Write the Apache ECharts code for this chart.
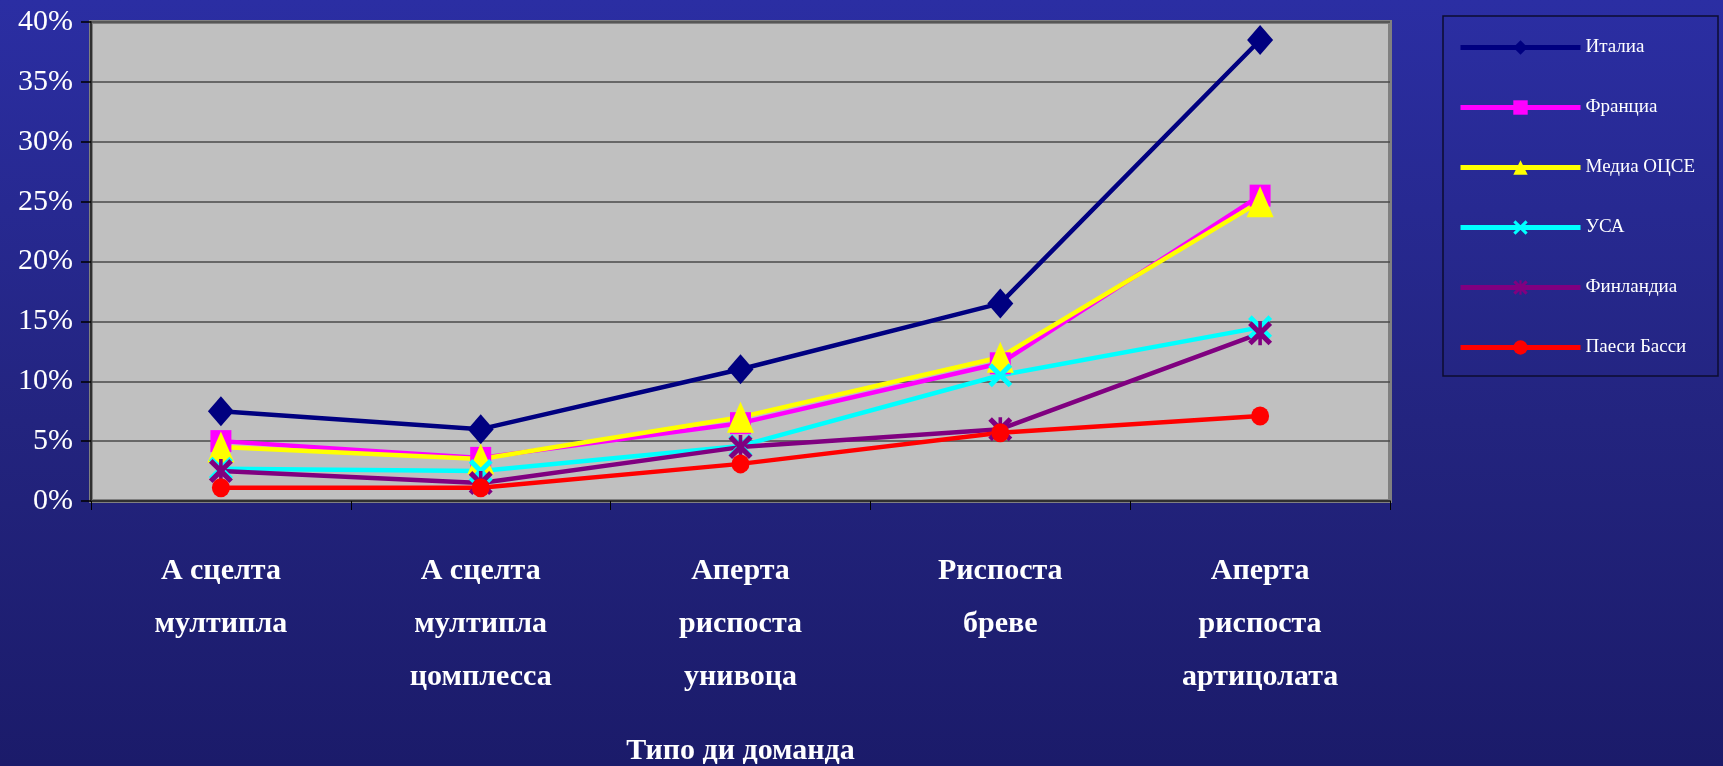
<!DOCTYPE html>
<html>
<head>
<meta charset="utf-8">
<title>Типо ди доманда</title>
<script src="https://cdn.jsdelivr.net/npm/echarts@6/dist/echarts.min.js"></script>
<style>
  html, body { margin: 0; padding: 0; }
  body {
    width: 1723px; height: 766px; overflow: hidden;
    background: linear-gradient(180deg, #2b2ea3 0%, #23247f 55%, #1b1b6a 100%);
  }
  #chart { width: 1723px; height: 766px; }
</style>
</head>
<body>
<div id="chart"></div>
<script>
// Question types along the x axis
const categories = [
  'А сцелта\nмултипла',
  'А сцелта\nмултипла\nцомплесса',
  'Аперта\nриспоста\nунивоца',
  'Риспоста\nбреве',
  'Аперта\nриспоста\nартицолата'
];

// Share of questions per type (percent)
const italia      = [7.5, 6.0, 11.0, 16.5, 38.5];
const francia     = [5.0, 3.6, 6.5, 11.5, 25.5];
const mediaOcse   = [4.5, 3.5, 7.0, 12.0, 25.0];
const usa         = [2.7, 2.5, 4.6, 10.5, 14.5];
const finlandia   = [2.5, 1.5, 4.5, 6.0, 14.0];
const paesiBassi  = [1.1, 1.1, 3.1, 5.7, 7.1];

const seriesNames = ['Италиа', 'Франциа', 'Медиа ОЦСЕ', 'УСА', 'Финландиа', 'Паеси Басси'];
const yTicks = { min: 0, max: 40, interval: 5 };

// Marker shapes
const X_PATH = 'path://M0,3 L3,0 L10,7 L17,0 L20,3 L13,10 L20,17 L17,20 L10,13 L3,20 L0,17 L7,10 Z';
const STAR_PATH = 'path://M0,3 L3,0 L8.5,5.5 L8.5,0 L11.5,0 L11.5,5.5 L17,0 L20,3 L13,10 L20,17 L17,20 L11.5,14.5 L11.5,20 L8.5,20 L8.5,14.5 L3,20 L0,17 L7,10 Z';

const SERIF = '"Liberation Serif", "Times New Roman", serif';

function lineSeries(name, data, color, symbol, size) {
  return {
    name: name,
    type: 'line',
    data: data,
    symbol: symbol,
    symbolSize: size,
    showAllSymbol: true,
    lineStyle: { color: color, width: 4.5 },
    itemStyle: { color: color },
    emphasis: { disabled: true },
    animation: false
  };
}

const chart = echarts.init(document.getElementById('chart'), null, { renderer: 'canvas' });

chart.setOption({
  backgroundColor: 'transparent',
  animation: false,
  grid: {
    left: 91, right: 333, top: 22, bottom: 265,
    containLabel: false,
    outerBoundsMode: 'none',
    show: true,
    backgroundColor: '#c0c0c0',
    borderColor: '#808080',
    borderWidth: 4
  },
  graphic: [{
    type: 'rect',
    shape: { x: 1443, y: 16, width: 275, height: 360 },
    style: { fill: 'none', stroke: '#0c0c30', lineWidth: 1.5 },
    z: 1
  }],
  legend: {
    orient: 'vertical',
    left: 1458,
    top: 38,
    padding: 0,
    itemWidth: 120,
    itemHeight: 18,
    itemGap: 41,
    data: seriesNames,
    lineStyle: { width: 5 },
    textStyle: { color: '#ffffff', fontFamily: SERIF, fontSize: 19, lineHeight: 18 },
    selectedMode: false
  },
  xAxis: {
    type: 'category',
    data: categories,
    boundaryGap: true,
    axisLine: { show: true, lineStyle: { color: '#303030', width: 2 } },
    axisTick: { show: true, length: 9, lineStyle: { color: '#000000', width: 1 } },
    axisLabel: {
      color: '#ffffff',
      fontFamily: SERIF,
      fontWeight: 'bold',
      fontSize: 30,
      lineHeight: 53,
      margin: 44,
      interval: 0
    },
    name: 'Типо ди доманда',
    nameLocation: 'middle',
    nameGap: 235,
    nameTextStyle: {
      color: '#ffffff',
      fontFamily: SERIF,
      fontWeight: 'bold',
      fontSize: 30
    }
  },
  yAxis: {
    type: 'value',
    min: yTicks.min,
    max: yTicks.max,
    interval: yTicks.interval,
    axisLine: { show: true, lineStyle: { color: '#303030', width: 2 } },
    axisTick: { show: true, length: 10, lineStyle: { color: '#000000', width: 1.5 } },
    axisLabel: {
      color: '#ffffff',
      fontFamily: SERIF,
      fontSize: 30,
      margin: 18,
      formatter: '{value}%'
    },
    splitLine: { show: true, lineStyle: { color: '#4a4a4a', width: 1.5 } }
  },
  series: [
    lineSeries(seriesNames[0], italia, '#000080', 'diamond', [26, 30]),
    lineSeries(seriesNames[1], francia, '#ff00ff', 'rect', [21, 22]),
    lineSeries(seriesNames[2], mediaOcse, '#ffff00', 'triangle', [27, 31]),
    lineSeries(seriesNames[3], usa, '#00ffff', X_PATH, [24, 24]),
    lineSeries(seriesNames[4], finlandia, '#800080', STAR_PATH, [24, 24]),
    lineSeries(seriesNames[5], paesiBassi, '#ff0000', 'circle', [18, 19])
  ]
});
</script>
</body>
</html>
